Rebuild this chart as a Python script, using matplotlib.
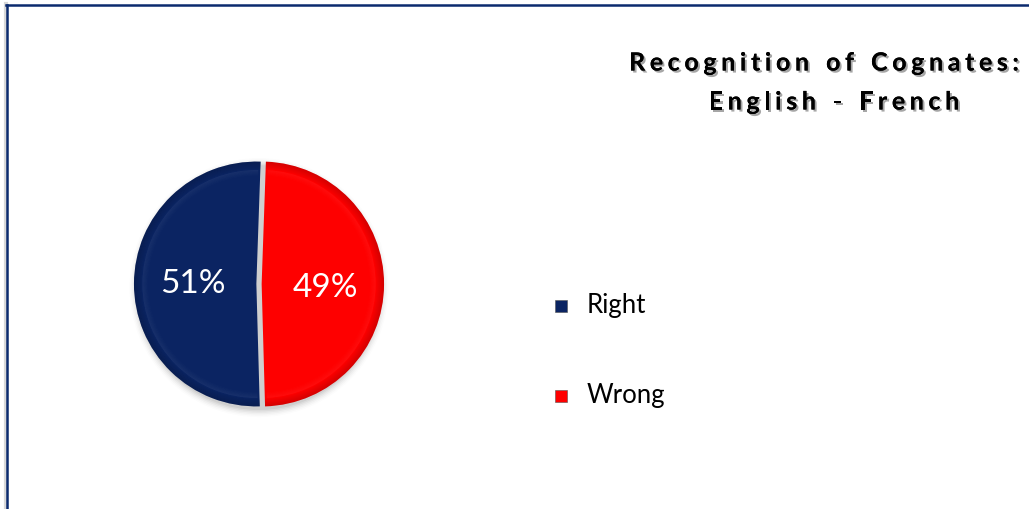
import numpy as np
import matplotlib
matplotlib.use("Agg")
from matplotlib import pyplot as plt
from matplotlib import patheffects as pe
from matplotlib.patches import Rectangle, Wedge
from matplotlib.lines import Line2D

labels = ["Right", "Wrong"]
shares = [51, 49]
colors = ["#0b2462", "#fe0000"]
title_lines = ["Recognition of Cognates:", "English - French"]

W, H = 1029, 509
fig = plt.figure(figsize=(W / 100, H / 100), dpi=100)
fig.patch.set_facecolor("white")

# frame around the chart area (only top and left show)
fig.add_artist(Line2D([5.5 / W, 5.5 / W], [0, 1 - 4 / H], transform=fig.transFigure,
                      color="#d8d8d8", lw=3.0, zorder=0))
fig.add_artist(Line2D([6.5 / W, 6.5 / W], [0, 1 - 4.5 / H], transform=fig.transFigure,
                      color="#0b2a6e", lw=1.8))
fig.add_artist(Line2D([6 / W, 1], [1 - 4.5 / H, 1 - 4.5 / H], transform=fig.transFigure,
                      color="#0b2a6e", lw=1.8))

# pie axes: 120 px per unit, centred on the pie
cx, cy, side = 259, 284, 300
ax = fig.add_axes([(cx - side / 2) / W, 1 - (cy + side / 2) / H, side / W, side / H])
ax.axis("off")

R = 1.02
explode = [0.022, 0.022]
startangle = 88

# soft drop shadow under the pie
for k, a in enumerate(np.linspace(0.05, 0.012, 6)):
    ax.add_patch(Wedge((0.0, -0.03), R + 0.012 * k, 0, 360, color="black", alpha=a, lw=0, zorder=0))

wedges, texts = ax.pie(shares, colors=colors, startangle=startangle, counterclock=True,
                       explode=explode, radius=R, wedgeprops=dict(linewidth=0))
ax.set_xlim(-1.25, 1.25)
ax.set_ylim(-1.25, 1.25)
ax.set_aspect("equal")

# bevel shading along the rim of each slice
for w in wedges:
    c = w.center
    for k in range(8):
        r = R - 0.008 * k
        ax.add_patch(Wedge(c, r, w.theta1, w.theta2, width=0.008, color="black",
                           alpha=0.16 - 0.018 * k, lw=0, zorder=3))
    for k in range(6):
        r = R - 0.07 - 0.008 * k
        ax.add_patch(Wedge(c, r, w.theta1 + 1, w.theta2 - 1, width=0.008, color="white",
                           alpha=0.05 - 0.008 * k, lw=0, zorder=3))

# percentage labels
total = sum(shares)
ang = startangle
for w, s, dy in zip(wedges, shares, [0.0, -0.03]):
    mid = np.deg2rad(ang + 360 * s / total / 2)
    ang += 360 * s / total
    ax.text(w.center[0] + 0.52 * R * np.cos(mid), w.center[1] + 0.52 * R * np.sin(mid) + dy,
            f"{s}%", color="white", fontsize=24, family="Lato",
            ha="center", va="center", zorder=5)

# legend
for i, (lab, col) in enumerate(zip(labels, colors)):
    y = 1 - (306 + 90 * i) / H
    fig.add_artist(Rectangle((555 / W, y - 6 / H), 12 / W, 12 / H, transform=fig.transFigure,
                             facecolor=col, edgecolor="#555555", lw=0.4))
    fig.text(587 / W, y, lab, fontsize=18.5, family="Lato", color="black",
             ha="left", va="center")

# title with wide letter spacing and a soft shadow
shadow = [pe.withSimplePatchShadow(offset=(1.5, -1.5), shadow_rgbFace="black", alpha=0.35),
          pe.Normal()]
renderer = fig.canvas.get_renderer()
track = 4.6
fsize = 18
for line, (xc, yc) in zip(title_lines, [(824, 63), (834, 102)]):
    widths = []
    for ch in line:
        t = fig.text(0, 0, ch if ch != " " else "n", fontsize=fsize, family="Lato", weight="bold")
        widths.append(t.get_window_extent(renderer).width * (0.55 if ch == " " else 1.0))
        t.remove()
    total_w = sum(widths) + track * (len(line) - 1)
    x = xc - total_w / 2
    for ch, wd in zip(line, widths):
        if ch != " ":
            fig.text(x / W, 1 - yc / H, ch, fontsize=fsize, family="Lato", weight="bold",
                     color="black", ha="left", va="center", path_effects=shadow)
        x += wd + track

fig.savefig("out.png", dpi=100, facecolor="white")
